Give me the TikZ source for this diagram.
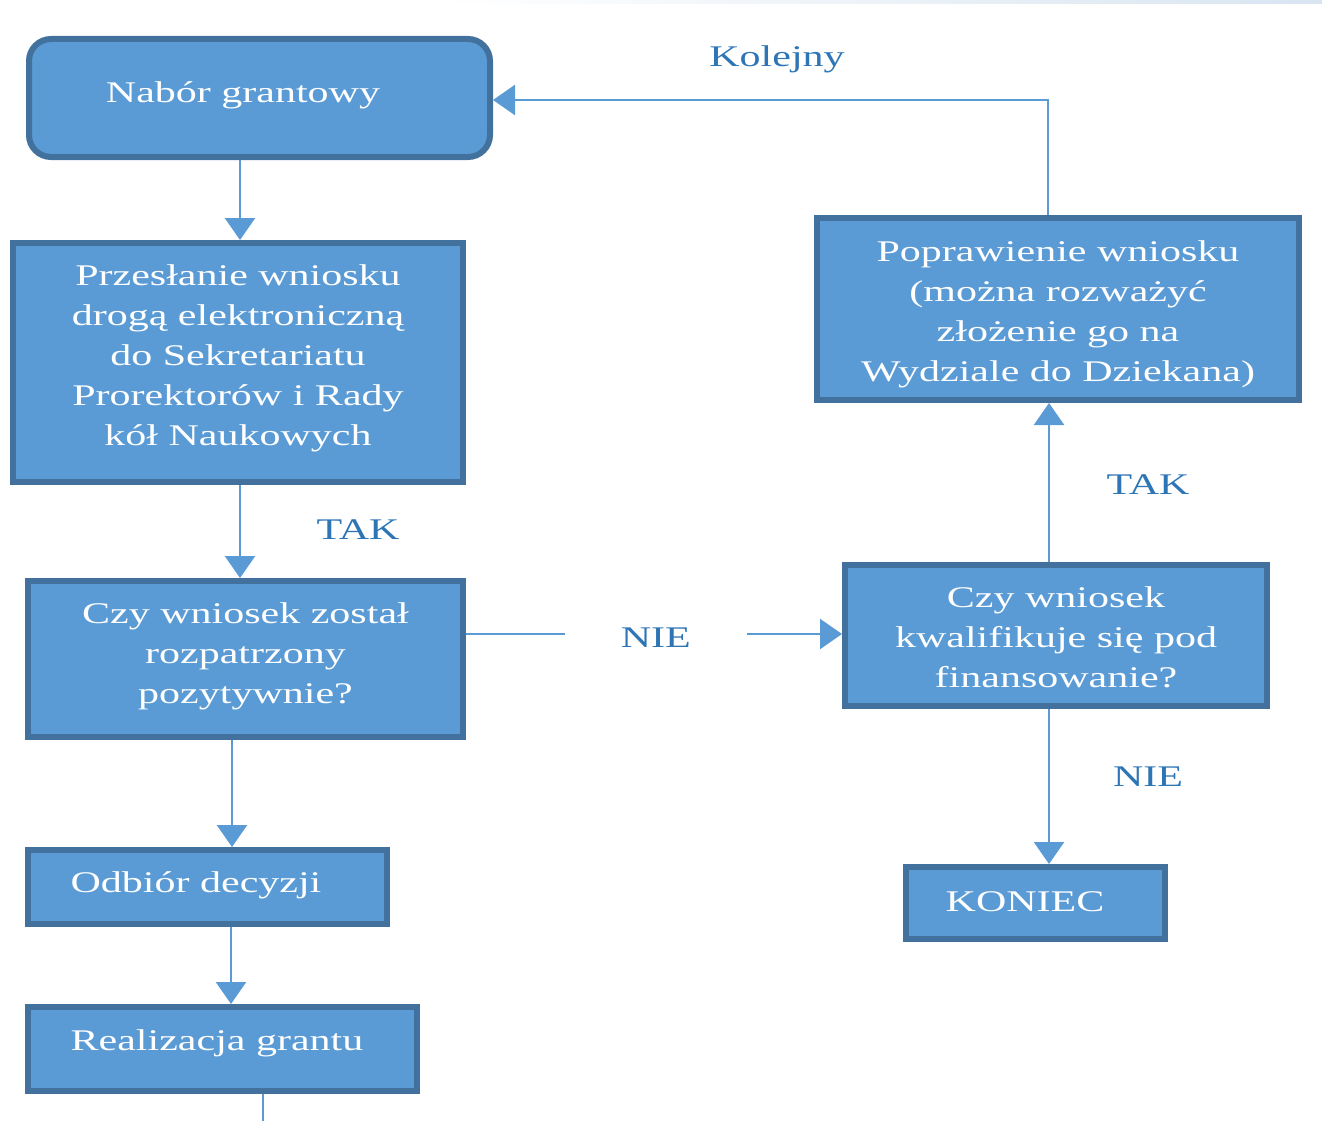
\documentclass[tikz,border=0pt]{standalone}
\usepackage{fontspec}
\setmainfont{Liberation Serif}[FakeStretch=1.4]
\usetikzlibrary{arrows.meta,calc}
\definecolor{boxfill}{HTML}{5B9BD5}
\definecolor{boxline}{HTML}{41719C}
\definecolor{conn}{HTML}{5B9BD5}
\definecolor{lbl}{HTML}{2E75B6}
\definecolor{topband}{HTML}{D8E5F1}
\begin{document}
\begin{tikzpicture}[x=1pt,y=-1pt,
  box/.style={draw=boxline, line width=6pt, fill=boxfill, inner sep=0pt},
  boxtext/.style={text=white, align=center, inner sep=0pt, font=\fontsize{30}{40}\selectfont},
  arr/.style={draw=conn, line width=2.5pt, -{Triangle[width=30pt,length=22pt]}},
  ln/.style={draw=conn, line width=2.5pt},
  lab/.style={text=lbl, inner sep=0pt, font=\fontsize{30}{36}\selectfont}]
\useasboundingbox (0,0) rectangle (1322,1121);
\shade[left color=white, right color=topband] (440,0) rectangle (1322,4);

% boxes
\node[box, rounded corners=22pt, minimum width=461pt, minimum height=118pt] (nab) at (259.5,98) {};
\node[boxtext] (nabT) at (243,95) {Nabór grantowy};

\node[box, minimum width=450pt, minimum height=239pt] (prz) at (238,362.5) {};
\node[boxtext] (przT) at (238,358) {Przesłanie wniosku\\drogą elektroniczną\\do Sekretariatu\\Prorektorów i Rady\\kół Naukowych};

\node[box, minimum width=435pt, minimum height=156pt] (czy) at (245.5,659) {};
\node[boxtext] (czyT) at (245.5,656) {Czy wniosek został\\rozpatrzony\\pozytywnie?};

\node[box, minimum width=359pt, minimum height=74pt] (odb) at (207.5,887) {};
\node[boxtext] (odbT) at (196,885) {Odbiór decyzji};

\node[box, minimum width=389pt, minimum height=84pt] (rea) at (222.5,1049) {};
\node[boxtext] (reaT) at (217,1043) {Realizacja grantu};

\node[box, minimum width=482pt, minimum height=182pt] (pop) at (1058,309) {};
\node[boxtext] (popT) at (1058,314) {Poprawienie wniosku\\(można rozważyć\\złożenie go na\\Wydziale do Dziekana)};

\node[box, minimum width=422pt, minimum height=141pt] (kwa) at (1056,635.5) {};
\node[boxtext] (kwaT) at (1056,637) {Czy wniosek\\kwalifikuje się pod\\finansowanie?};

\node[box, minimum width=259pt, minimum height=72pt] (kon) at (1035.5,903) {};
\node[boxtext] (konT) at (1025,902) {KONIEC};

% helper coordinates
\coordinate (xA) at (240,0);
\coordinate (xB) at (232,0);
\coordinate (xC) at (231,0);
\coordinate (xD) at (263,1121);
\coordinate (xE) at (1049,0);
\coordinate (xK) at (1048,0);
\coordinate (yN) at (0,634);
\coordinate (yK) at (0,100);

% connectors
\draw[arr] (nab.south -| xA) -- (prz.north -| xA);
\draw[arr] (prz.south -| xA) -- (czy.north -| xA);
\draw[arr] (czy.south -| xB) -- (odb.north -| xB);
\draw[arr] (odb.south -| xC) -- (rea.north -| xC);
\draw[ln] (rea.south -| xD) -- (xD);
\draw[arr] (czy.east |- yN) -- node[lab, fill=white, inner xsep=56pt, inner ysep=4pt, yshift=-4pt, pos=0.505] (nie1) {NIE} (kwa.west |- yN);
\draw[arr] (kwa.north -| xE) -- (pop.south -| xE);
\draw[arr] (kwa.south -| xE) -- (kon.north -| xE);
\draw[arr] (pop.north -| xK) |- (nab.east |- yK);

% labels
\node[lab] (kol) at (777,59) {Kolejny};
\node[lab] (tak1) at (358,530) {TAK};
\node[lab] (tak2) at (1148,485) {TAK};
\node[lab] (nie2) at (1148,777) {NIE};
\end{tikzpicture}
\end{document}
